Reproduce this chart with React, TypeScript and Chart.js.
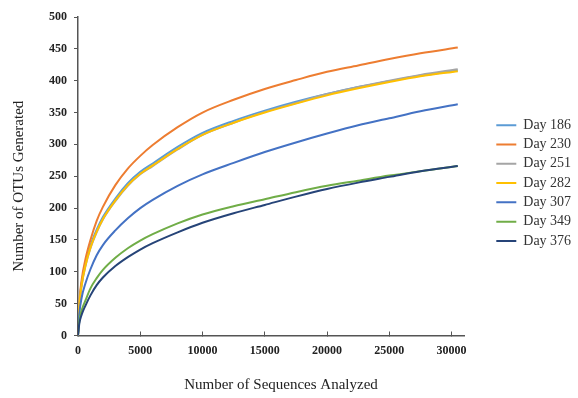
import React, { useEffect, useRef } from "react";
import { Chart, registerables } from "chart.js";

Chart.register(...registerables);

// Number of sequences analyzed (x values of the sampled rarefaction points)
const seqCounts = [0, 100, 300, 600, 1000, 1500, 2000, 3000, 4000, 5000, 6000, 8000, 10000, 12500, 15000, 17500, 20000, 22500, 25000, 27500, 30500];

const seriesNames = ["Day 186", "Day 230", "Day 251", "Day 282", "Day 307", "Day 349", "Day 376"];
const seriesColors = ["#5B9BD5", "#ED7D31", "#A5A5A5", "#FFC000", "#4472C4", "#70AD47", "#264478"];

const day186 = [0, 47, 83, 113, 141, 166, 186, 215, 239, 257, 270, 296, 318, 337, 353, 367, 379, 390, 399, 408, 416];
const day230 = [0, 50, 88, 120, 150, 180, 202, 236, 262, 282, 299, 327, 350, 370, 387, 401, 414, 424, 434, 443, 452];
const day251 = [0, 44, 79, 109, 137, 162, 182, 211, 235, 253, 266, 292, 315, 334, 351, 365, 379, 390, 400, 409, 418];
const day282 = [0, 45, 80, 110, 138, 163, 183, 212, 236, 254, 267, 293, 315, 334, 350, 364, 377, 388, 398, 407, 415];
const day307 = [0, 33, 60, 82, 104, 126, 142, 165, 184, 200, 213, 235, 253, 271, 288, 303, 317, 330, 341, 352, 363];
const day349 = [0, 22, 40, 55, 74, 90, 103, 122, 137, 149, 159, 176, 190, 203, 214, 225, 235, 243, 251, 258, 266];
const day376 = [0, 18, 33, 47, 63, 79, 91, 109, 123, 135, 145, 162, 177, 192, 205, 218, 230, 240, 249, 258, 266];

const seriesValues = [day186, day230, day251, day282, day307, day349, day376];

const xTickValues = [0, 5000, 10000, 15000, 20000, 25000, 30000];
const yTickValues = [0, 50, 100, 150, 200, 250, 300, 350, 400, 450, 500];

const xTitle = "Number of Sequences Analyzed";
const yTitle = "Number of OTUs Generated";

const serif = "'Liberation Serif', 'Times New Roman', serif";

const axisTitlePlugin = {
  id: "axisTitles",
  afterDraw(chart: any) {
    const { ctx, chartArea } = chart;
    ctx.save();
    ctx.fillStyle = "#222";
    ctx.font = `15px ${serif}`;
    ctx.textAlign = "center";
    ctx.textBaseline = "middle";
    const cx = (chartArea.left + chartArea.right) / 2 + 10;
    ctx.fillText(xTitle, cx, 385);
    const cy = (chartArea.top + chartArea.bottom) / 2 + 10;
    ctx.translate(19, cy);
    ctx.rotate(-Math.PI / 2);
    ctx.fillText(yTitle, 0, 0);
    ctx.restore();
  },
};

export default function App() {
  const ref = useRef<HTMLCanvasElement | null>(null);

  useEffect(() => {
    if (!ref.current) return;
    const datasets = seriesNames.map((name, i) => ({
      label: name,
      data: seqCounts.map((x, j) => ({ x, y: seriesValues[i][j] })),
      borderColor: seriesColors[i],
      backgroundColor: seriesColors[i],
      borderWidth: 2,
      pointRadius: 0,
      fill: false,
      cubicInterpolationMode: "monotone" as const,
      order: seriesNames.length - i,
    }));

    const chart = new Chart(ref.current, {
      type: "line",
      data: { datasets },
      options: {
        responsive: false,
        animation: false,
        layout: { padding: { top: 17, left: 0, right: 0, bottom: 0 } },
        plugins: {
          tooltip: { enabled: false },
          legend: {
            position: "right",
            fullSize: false,
            maxWidth: 87,
            title: {
              display: true,
              text: "",
              padding: { top: 6.3, bottom: 6.3 },
              font: { size: 1, lineHeight: 1 },
            },
            labels: {
              usePointStyle: true,
              pointStyle: "line",
              pointStyleWidth: 20,
              padding: 5.3,
              color: "#333",
              font: { family: serif, size: 14 },
              sort: (a: any, b: any) => a.datasetIndex - b.datasetIndex,
            },
          },
        },
        scales: {
          x: {
            type: "linear",
            min: 0,
            max: 31000,
            border: { display: true, color: "#555", width: 1.5 },
            grid: { display: true, drawOnChartArea: false, drawTicks: true, tickLength: -4, color: "#555" },
            ticks: {
              autoSkip: false,
              padding: 12,
              color: "#222",
              font: { family: serif, size: 12, weight: "bold" },
              maxRotation: 0,
              minRotation: 0,
              callback: (v: any) => String(v),
            },
            afterBuildTicks: (s: any) => {
              s.ticks = xTickValues.map((v) => ({ value: v }));
            },
            afterFit: (s: any) => {
              s.height = 62.5;
            },
          },
          y: {
            type: "linear",
            min: 0,
            max: 500,
            border: { display: true, color: "#555", width: 1.5 },
            grid: { display: true, drawOnChartArea: false, drawTicks: true, tickLength: 4, color: "#555" },
            ticks: {
              padding: 7,
              color: "#222",
              font: { family: serif, size: 12, weight: "bold" },
              callback: (v: any) => String(v),
            },
            afterBuildTicks: (s: any) => {
              s.ticks = yTickValues.map((v) => ({ value: v }));
            },
            afterFit: (s: any) => {
              s.width = 78;
            },
          },
          gap: {
            type: "linear",
            position: "right",
            display: true,
            border: { display: false },
            grid: { display: false, drawTicks: false },
            ticks: { display: false },
            afterFit: (s: any) => {
              s.width = 27;
            },
          },
        },
      },
      plugins: [axisTitlePlugin],
    } as any);

    return () => chart.destroy();
  }, []);

  return (
    <div style={{ position: "fixed", left: 0, top: 0, width: 578, height: 398, background: "#fff" }}>
      <canvas ref={ref} width={578} height={398} style={{ display: "block" }} />
    </div>
  );
}
